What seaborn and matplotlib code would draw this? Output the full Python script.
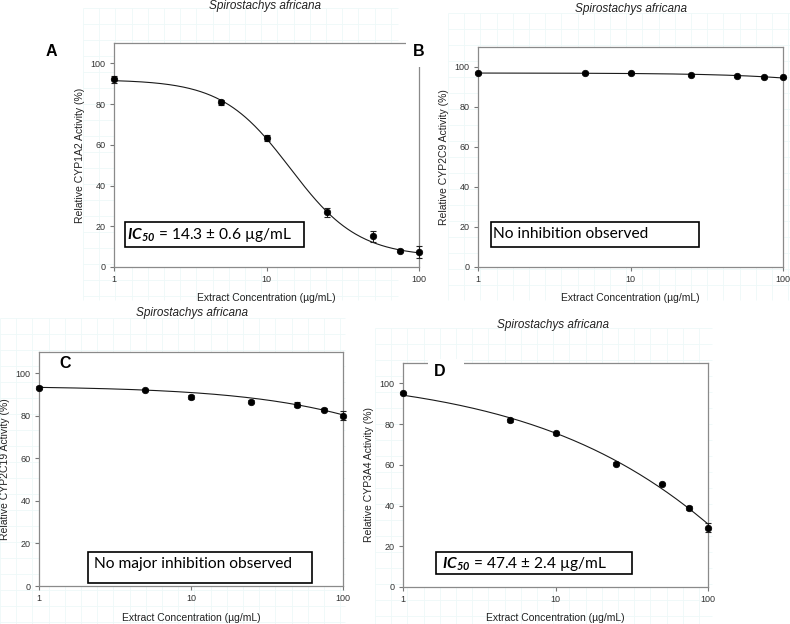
import numpy as np
import pandas as pd
import matplotlib
matplotlib.use("Agg")
import matplotlib.pyplot as plt
import seaborn as sns
from matplotlib.patches import Rectangle
from matplotlib.ticker import FixedLocator, FixedFormatter, NullLocator

# ---------------- data ----------------
conc = [1, 5, 10, 25, 50, 75, 100]

cyp1a2_mean = [92.1, 80.8, 63.5, 26.8, 15.0, 8.0, 7.2]
cyp1a2_err = [1.5, 1.2, 1.4, 2.2, 2.6, 0.8, 3.0]
cyp2c9_mean = [97.0, 97.0, 97.0, 96.0, 95.4, 95.0, 94.8]
cyp2c9_err = [0.4, 0.4, 0.4, 0.4, 0.4, 0.4, 0.4]
cyp2c19_mean = [93.3, 92.3, 88.7, 86.7, 85.3, 82.9, 80.1]
cyp2c19_err = [0.5, 0.5, 0.9, 0.7, 1.1, 0.6, 2.2]
cyp3a4_mean = [95.4, 81.9, 75.4, 60.6, 50.7, 38.9, 29.2]
cyp3a4_err = [0.6, 0.8, 0.6, 0.6, 0.5, 1.0, 2.4]

# four-parameter logistic fit parameters per panel
fit_top = [92.0, 97.0, 94.0, 105.0]
fit_bottom = [5.0, 0.0, 0.0, -300.0]
fit_ic50 = [14.3, 3780.0, 1274.0, 2663.0]
fit_hill = [1.94, 1.0, 0.7, 0.456]

panel_letters = ["A", "B", "C", "D"]
enzymes = ["CYP1A2", "CYP2C9", "CYP2C19", "CYP3A4"]
species = "Spirostachys africana"
xlabel = "Extract Concentration (µg/mL)"
box_texts = [r"$\mathbf{IC_{50}}$ = 14.3 ± 0.6 µg/mL",
             "No inhibition observed",
             "No major inhibition observed",
             r"$\mathbf{IC_{50}}$ = 47.4 ± 2.4 µg/mL"]
x_ticks = [1, 10, 100]
x_tick_labels = ["1", "10", "100"]
y_ticks = [0, 20, 40, 60, 80, 100]

means = [cyp1a2_mean, cyp2c9_mean, cyp2c19_mean, cyp3a4_mean]
errs = [cyp1a2_err, cyp2c9_err, cyp2c19_err, cyp3a4_err]

# ---------------- style ----------------
sns.set_style("white")
plt.rcParams["font.family"] = ["Liberation Sans", "DejaVu Sans"]
plt.rcParams["mathtext.fontset"] = "custom"
plt.rcParams["mathtext.rm"] = "Lato"
plt.rcParams["mathtext.it"] = "Lato:italic"
plt.rcParams["mathtext.bf"] = "Lato:bold:italic"

W, H = 790, 624
fig = plt.figure(figsize=(W / 100, H / 100), dpi=100)
fig.patch.set_facecolor("white")


def fx(px):
    return px / W


def fy(py):
    return 1 - py / H


# faint background grid (scan artefact in the reference)
bg = fig.add_axes([0, 0, 1, 1], zorder=-10)
bg.set_xlim(0, W)
bg.set_ylim(H, 0)
bg.axis("off")
grid_regions = [(83, 398, 8, 300), (448, 790, 13, 300), (0, 345, 318, 624), (375, 712, 328, 624)]
for (x0, x1, y0, y1) in grid_regions:
    xs = np.arange(x0, x1 + 1, 16.2)
    ys = np.arange(y0, y1 + 1, 16.0)
    bg.vlines(xs, y0, y1, color="#eef8f8", lw=0.6)
    bg.hlines(ys, x0, x1, color="#eef8f8", lw=0.6)

# axes boxes in pixels: left, right, top, bottom
ax_px = [(114, 419, 43, 267), (478, 783, 47, 267), (39, 343, 352, 586), (403, 708, 363, 587)]
# annotation boxes in pixels: left, right, top, bottom, text-left
box_px = [(125, 304, 222, 247, 127), (491, 699, 222, 247, 493),
          (88, 312, 552, 583, 94), (436, 632, 552, 574, 442)]
text_cy = [234.5, 234.5, 564, 564]
title_pos = [(265, 6), (631, 9), (192, 313), (553, 325)]
xlabel_y = [298, 298, 618, 618]
ylabel_x = [80, 444, 5, 369]

fit_x = np.logspace(0, 2, 300)

for i in range(4):
    l, r, t, b = ax_px[i]
    ax = fig.add_axes([fx(l), fy(b), fx(r) - fx(l), (b - t) / H])
    ax.set_facecolor("white")
    ax.set_xscale("log")
    ax.set_xlim(1, 100)
    ax.set_ylim(0, 110)

    fit_y = fit_bottom[i] + (fit_top[i] - fit_bottom[i]) / (1 + (fit_x / fit_ic50[i]) ** fit_hill[i])
    sns.lineplot(x=fit_x, y=fit_y, ax=ax, color="#1a1a1a", lw=0.8, zorder=2)
    ax.errorbar(conc, means[i], yerr=errs[i], fmt="none", ecolor="#222222",
                elinewidth=0.8, capsize=2.5, capthick=0.8, zorder=3, clip_on=False)
    df = pd.DataFrame({"conc": conc, "act": means[i]})
    sns.scatterplot(data=df, x="conc", y="act", ax=ax, color="black", s=22,
                    edgecolor="black", linewidth=0.5, zorder=4, clip_on=False)

    ax.xaxis.set_major_locator(FixedLocator(x_ticks))
    ax.xaxis.set_major_formatter(FixedFormatter(x_tick_labels))
    ax.xaxis.set_minor_locator(NullLocator())
    ax.set_yticks(y_ticks)
    ax.tick_params(axis="both", which="major", direction="out", length=3, width=0.8,
                   color="#777777", labelsize=6.5, labelcolor="#333333", pad=3,
                   bottom=True, left=True)
    for sp in ax.spines.values():
        sp.set_color("#8a8a8a")
        sp.set_linewidth(0.9)

    ax.set_xlabel(xlabel, fontsize=7.5, color="#222222")
    ax.set_ylabel(f"Relative {enzymes[i]} Activity (%)", fontsize=7.5, color="#222222")
    ax.xaxis.set_label_coords((0.5), (b - xlabel_y[i]) / (b - t))
    ax.xaxis.label.set_verticalalignment("center")
    ax.yaxis.set_label_coords((ylabel_x[i] - l) / (r - l), 0.5)
    ax.yaxis.label.set_verticalalignment("center")

    # annotation box
    bl, br, bt, bb, tl = box_px[i]
    rect = Rectangle(((bl - l) / (r - l), (b - bb) / (b - t)), (br - bl) / (r - l), (bb - bt) / (b - t),
                     transform=ax.transAxes, facecolor="white", edgecolor="black", lw=1.2, zorder=5)
    ax.add_patch(rect)
    ax.text((tl - l) / (r - l), (b - text_cy[i]) / (b - t), box_texts[i], transform=ax.transAxes,
            ha="left", va="center", fontsize=11.2, family=["Lato", "DejaVu Sans"], color="black", zorder=6)

    # title
    fig.text(fx(title_pos[i][0]), fy(title_pos[i][1]), species, ha="center", va="center",
             fontsize=8.5, style="italic", color="#222222")

# white patches interrupting spines behind letters
fig.add_artist(Rectangle((fx(406), fy(67)), fx(28), 30 / H, transform=fig.transFigure,
                         facecolor="white", edgecolor="none", zorder=5))
fig.add_artist(Rectangle((fx(428), fy(369)), fx(36), 10 / H, transform=fig.transFigure,
                         facecolor="white", edgecolor="none", zorder=5))

letter_pos = [(51, 52), (419, 52), (65, 363), (440, 371)]
for i in range(4):
    fig.text(fx(letter_pos[i][0]), fy(letter_pos[i][1]), panel_letters[i], ha="center", va="center",
             fontsize=11.5, fontweight="bold", color="black", zorder=6)

fig.savefig("out.png", dpi=100)
